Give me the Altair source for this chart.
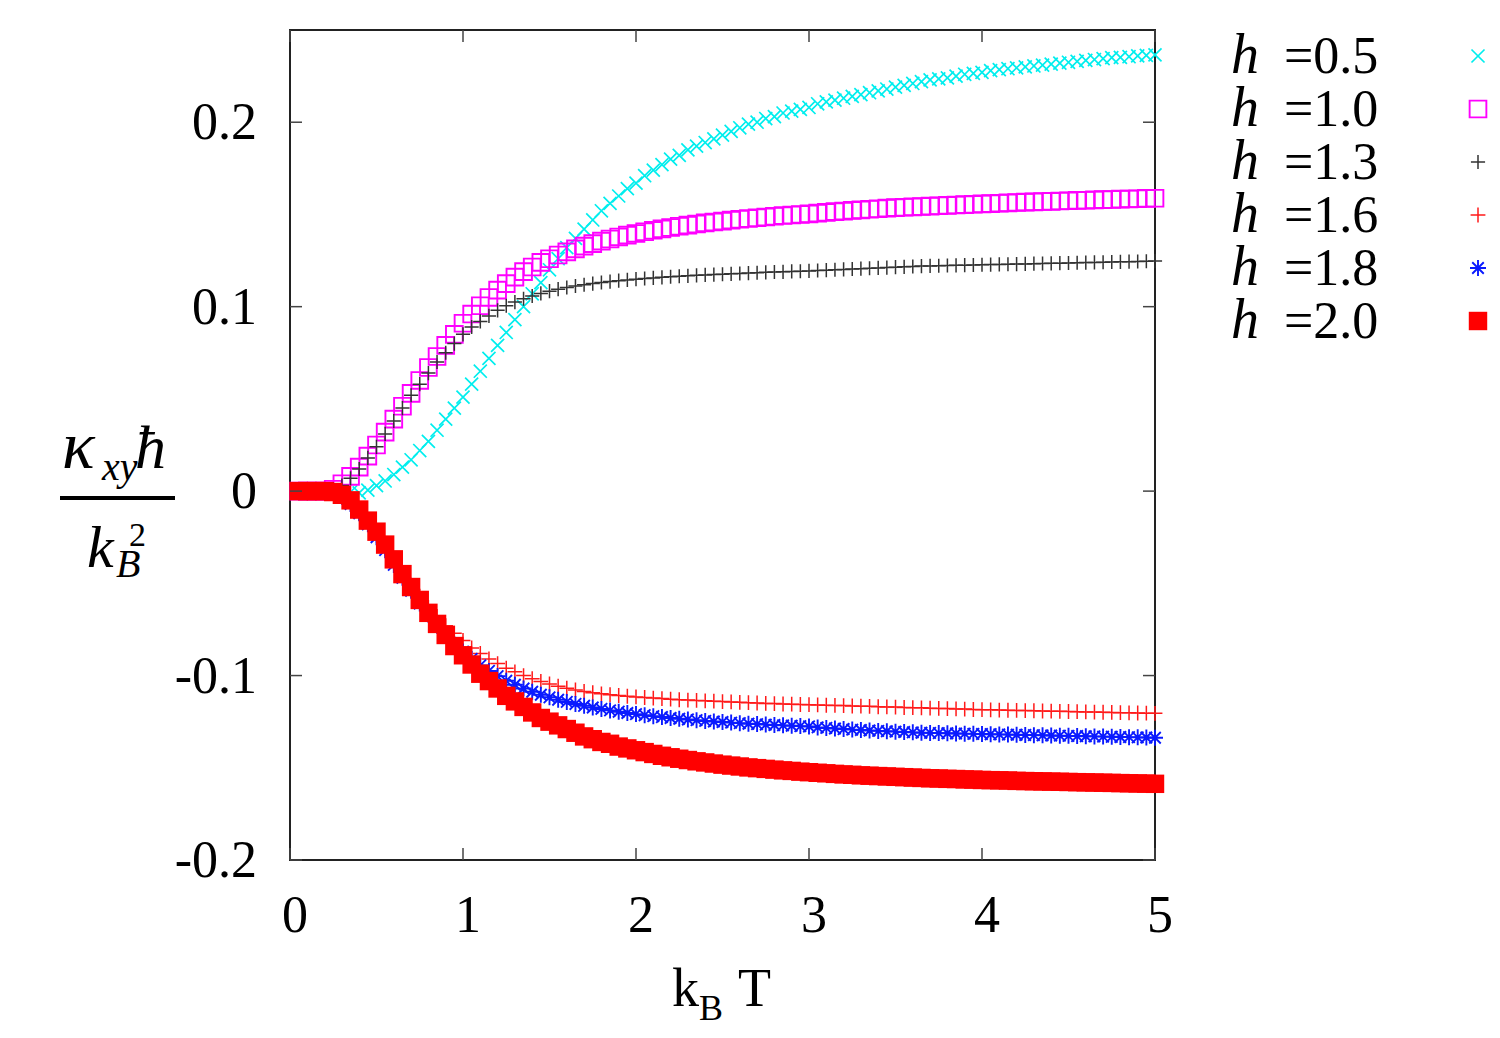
import altair as alt
import pandas as pd

# ---------------- data ----------------
T = [round(0.05 * i, 2) for i in range(1, 101)]

h05 = [0, 0, 0, 0, 0, 0, -0.0005, -0.001, 0.0005, 0.003, 0.0055, 0.009, 0.013, 0.017, 0.022, 0.027, 0.033, 0.039, 0.045, 0.051,
       0.058, 0.065, 0.072, 0.079, 0.086, 0.093, 0.100, 0.107, 0.113, 0.120, 0.126, 0.132, 0.137, 0.142, 0.147, 0.152, 0.156, 0.160, 0.164, 0.167,
       0.171, 0.174, 0.177, 0.180, 0.182, 0.185, 0.187, 0.189, 0.191, 0.193, 0.195, 0.197, 0.199, 0.200, 0.202, 0.203, 0.205, 0.206, 0.207, 0.208,
       0.210, 0.211, 0.212, 0.213, 0.214, 0.215, 0.216, 0.217, 0.218, 0.219, 0.220, 0.221, 0.222, 0.223, 0.2235, 0.224, 0.225, 0.226, 0.2265, 0.227,
       0.228, 0.2285, 0.229, 0.2295, 0.230, 0.2305, 0.231, 0.2315, 0.232, 0.2325, 0.233, 0.2335, 0.234, 0.2345, 0.235, 0.2352, 0.2355, 0.236, 0.2362, 0.2365]

h10 = [0, 0, 0, 0, 0.001, 0.004, 0.008, 0.013, 0.019, 0.025, 0.032, 0.039, 0.046, 0.053, 0.060, 0.067, 0.073, 0.079, 0.085, 0.091,
       0.096, 0.1005, 0.105, 0.109, 0.1125, 0.116, 0.119, 0.1215, 0.124, 0.126, 0.128, 0.1297, 0.1313, 0.1328, 0.1342, 0.1355, 0.1367, 0.1378, 0.1388, 0.1397,
       0.1406, 0.1414, 0.1422, 0.1429, 0.1436, 0.1442, 0.1448, 0.1454, 0.1459, 0.1464, 0.1469, 0.1474, 0.1478, 0.1482, 0.1486, 0.149, 0.1494, 0.1497, 0.15, 0.1503,
       0.1507, 0.1511, 0.1515, 0.1518, 0.1522, 0.1525, 0.1528, 0.1531, 0.1534, 0.1537, 0.1539, 0.1541, 0.1543, 0.1545, 0.1547, 0.1549, 0.1551, 0.1553, 0.1555, 0.1557,
       0.1559, 0.1561, 0.1563, 0.1565, 0.1567, 0.1568, 0.157, 0.1571, 0.1573, 0.1574, 0.1576, 0.1577, 0.1579, 0.158, 0.1581, 0.1583, 0.1584, 0.1585, 0.1587, 0.1588]

h13 = [0, 0, 0, 0, 0.001, 0.003, 0.007, 0.012, 0.018, 0.024, 0.031, 0.038, 0.045, 0.052, 0.058, 0.064, 0.070, 0.075, 0.080, 0.085,
       0.089, 0.092, 0.095, 0.098, 0.1005, 0.1025, 0.1043, 0.1058, 0.1072, 0.1084, 0.1095, 0.1104, 0.1112, 0.1119, 0.1125, 0.1131, 0.1136, 0.1141, 0.1145, 0.1149,
       0.1153, 0.1156, 0.1159, 0.1162, 0.1165, 0.1167, 0.117, 0.1172, 0.1174, 0.1176, 0.1178, 0.118, 0.1182, 0.1184, 0.1186, 0.1188, 0.1189, 0.1191, 0.1192, 0.1194,
       0.1196, 0.1198, 0.12, 0.1202, 0.1204, 0.1206, 0.1208, 0.121, 0.1212, 0.1214, 0.1216, 0.1218, 0.122, 0.1221, 0.1222, 0.1223, 0.1224, 0.1225, 0.1226, 0.1227,
       0.1228, 0.1229, 0.123, 0.1231, 0.1232, 0.1233, 0.1234, 0.1235, 0.1236, 0.1237, 0.1238, 0.1239, 0.124, 0.1241, 0.1242, 0.1243, 0.1244, 0.1245, 0.1246, 0.1247]

h16 = [0, 0, 0, 0, -0.001, -0.003, -0.007, -0.012, -0.018, -0.024, -0.031, -0.038, -0.045, -0.051, -0.057, -0.063, -0.068, -0.073, -0.077, -0.081,
       -0.085, -0.088, -0.091, -0.0935, -0.096, -0.098, -0.100, -0.1017, -0.1032, -0.1046, -0.1058, -0.1069, -0.1078, -0.1086, -0.1093, -0.1099, -0.1104, -0.1108, -0.1112, -0.1116,
       -0.1119, -0.1122, -0.1125, -0.1128, -0.1131, -0.1133, -0.1135, -0.1137, -0.1139, -0.1141, -0.1143, -0.1145, -0.1147, -0.1149, -0.1151, -0.1152, -0.1154, -0.1155, -0.1157, -0.1158,
       -0.1159, -0.1161, -0.1162, -0.1163, -0.1165, -0.1166, -0.1167, -0.1169, -0.117, -0.1171, -0.1173, -0.1174, -0.1175, -0.1177, -0.1178, -0.1179, -0.1181, -0.1182, -0.1184, -0.1185,
       -0.1186, -0.1187, -0.1188, -0.1189, -0.119, -0.1191, -0.1192, -0.1193, -0.1194, -0.1195, -0.1196, -0.1197, -0.1198, -0.1199, -0.12, -0.1201, -0.1202, -0.1203, -0.1204, -0.1205]

h18 = [0, 0, 0, 0, -0.001, -0.003, -0.007, -0.012, -0.018, -0.025, -0.032, -0.040, -0.047, -0.054, -0.061, -0.067, -0.073, -0.078, -0.083, -0.087,
       -0.091, -0.0945, -0.0975, -0.1003, -0.1028, -0.105, -0.107, -0.1088, -0.1104, -0.1118, -0.1131, -0.1143, -0.1154, -0.1164, -0.1173, -0.1181, -0.1189, -0.1196, -0.1203, -0.1209,
       -0.1215, -0.122, -0.1225, -0.123, -0.1234, -0.1238, -0.1242, -0.1246, -0.1249, -0.1252, -0.1255, -0.1258, -0.1261, -0.1263, -0.1266, -0.1268, -0.127, -0.1272, -0.1274, -0.1276,
       -0.1281, -0.1284, -0.1287, -0.129, -0.1293, -0.1295, -0.1298, -0.13, -0.1302, -0.1304, -0.1306, -0.1308, -0.131, -0.1311, -0.1312, -0.1313, -0.1314, -0.1315, -0.1316, -0.1317,
       -0.1318, -0.1319, -0.132, -0.1321, -0.1322, -0.1323, -0.1324, -0.1325, -0.1326, -0.1327, -0.1328, -0.1329, -0.133, -0.1331, -0.1332, -0.1333, -0.1334, -0.1335, -0.1336, -0.1337]

h20 = [0, 0, 0, 0, -0.0005, -0.002, -0.005, -0.010, -0.016, -0.022, -0.029, -0.037, -0.045, -0.052, -0.059, -0.066, -0.072, -0.078, -0.084, -0.089,
       -0.094, -0.099, -0.103, -0.107, -0.111, -0.114, -0.117, -0.120, -0.123, -0.125, -0.127, -0.129, -0.131, -0.133, -0.1345, -0.136, -0.137, -0.1385, -0.1395, -0.1405,
       -0.1415, -0.1425, -0.1435, -0.1443, -0.1451, -0.1458, -0.1465, -0.1471, -0.1477, -0.1483, -0.1488, -0.1493, -0.1498, -0.1502, -0.1506, -0.151, -0.1514, -0.1517, -0.1521, -0.1524,
       -0.1527, -0.153, -0.1533, -0.1536, -0.1538, -0.1541, -0.1543, -0.1545, -0.1547, -0.1549, -0.1551, -0.1553, -0.1555, -0.1557, -0.1558, -0.156, -0.1561, -0.1563, -0.1564, -0.1566,
       -0.1567, -0.1568, -0.1569, -0.1571, -0.1572, -0.1573, -0.1574, -0.1575, -0.1576, -0.1577, -0.1578, -0.1579, -0.158, -0.1581, -0.1582, -0.1583, -0.1584, -0.1585, -0.1586, -0.1587]

labels = ["0.5", "1.0", "1.3", "1.6", "1.8", "2.0"]
series = [h05, h10, h13, h16, h18, h20]
x_ticks = [0, 1, 2, 3, 4, 5]
x_tick_labels = ["0", "1", "2", "3", "4", "5"]
y_ticks = [-0.2, -0.1, 0, 0.1, 0.2]
y_tick_labels = ["-0.2", "-0.1", "0", "0.1", "0.2"]

# ---------------- styles ----------------
W, H = 865, 830
SERIF = "Liberation Serif"
X_PATH = "M-1,-1L1,1M-1,1L1,-1"
PLUS_PATH = "M-1,0L1,0M0,-1L0,1"
STAR_PATH = "M-1,0L1,0M0,-1L0,1M-0.72,-0.72L0.72,0.72M-0.72,0.72L0.72,-0.72"
styles = {
    "0.5": dict(shape=X_PATH, color="#00eeee", filled=False, size=170, sw=1.7),
    "1.0": dict(shape="square", color="#ff00ff", filled=False, size=280, sw=1.9),
    "1.3": dict(shape=PLUS_PATH, color="#333333", filled=False, size=200, sw=1.5),
    "1.6": dict(shape=PLUS_PATH, color="#ff1a1a", filled=False, size=220, sw=1.5),
    "1.8": dict(shape=STAR_PATH, color="#0a1aff", filled=False, size=256, sw=1.9),
    "2.0": dict(shape="square", color="#ff0000", filled=True, size=340, sw=0),
}

xscale = alt.Scale(domain=[0, 5], nice=False, zero=False)
yscale = alt.Scale(domain=[-0.2, 0.25], nice=False, zero=False)


def mark_for(st, **extra):
    if st["filled"]:
        return dict(shape=st["shape"], filled=True, color=st["color"], size=st["size"],
                    opacity=1, strokeWidth=0, **extra)
    return dict(shape=st["shape"], filled=False, color=st["color"], size=st["size"],
                opacity=1, strokeWidth=st["sw"], **extra)


layers = []
for lab, vals in zip(labels, series):
    d = pd.DataFrame({"T": T, "kxy": vals})
    st = styles[lab]
    layers.append(
        alt.Chart(d).mark_point(**mark_for(st)).encode(
            x=alt.X("T:Q", scale=xscale, axis=None),
            y=alt.Y("kxy:Q", scale=yscale, axis=None),
        )
    )

# inner ticks on all four sides (gnuplot style)
xt = pd.DataFrame({"v": x_ticks, "lab": x_tick_labels})
yt = pd.DataFrame({"v": y_ticks, "lab": y_tick_labels})
TICK = dict(color="#444444", strokeWidth=1.5)
TL = 12
layers += [
    alt.Chart(xt).mark_rule(**TICK).encode(x=alt.X("v:Q", scale=xscale, axis=None), y=alt.value(H), y2=alt.value(H - TL)),
    alt.Chart(xt).mark_rule(**TICK).encode(x=alt.X("v:Q", scale=xscale, axis=None), y=alt.value(0), y2=alt.value(TL)),
    alt.Chart(yt).mark_rule(**TICK).encode(y=alt.Y("v:Q", scale=yscale, axis=None), x=alt.value(0), x2=alt.value(TL)),
    alt.Chart(yt).mark_rule(**TICK).encode(y=alt.Y("v:Q", scale=yscale, axis=None), x=alt.value(W - TL), x2=alt.value(W)),
    # tick labels
    alt.Chart(xt).mark_text(font=SERIF, fontSize=52, align="center", baseline="alphabetic", dx=5, color="black").encode(
        x=alt.X("v:Q", scale=xscale, axis=None), y=alt.value(H + 72), text="lab:N"),
    alt.Chart(yt).mark_text(font=SERIF, fontSize=52, align="right", baseline="alphabetic", dy=17, color="black").encode(
        y=alt.Y("v:Q", scale=yscale, axis=None), x=alt.value(-33), text="lab:N"),
]


def txt(s, x, y, size, italic=False, align="left"):
    return alt.Chart(pd.DataFrame({"t": [s]})).mark_text(
        font=SERIF, fontSize=size, fontStyle="italic" if italic else "normal",
        align=align, baseline="alphabetic", color="black",
    ).encode(text="t:N", x=alt.value(x), y=alt.value(y))


# x-axis title: k_B T
layers += [
    txt("k", 382, 976, 54),
    txt("B", 409, 990, 36),
    txt("T", 448, 976, 54),
]
# y-axis title: kappa_xy hbar / k_B^2
layers += [
    txt("κ", -228, 438, 68, italic=True),
    txt("xy", -188, 450, 40, italic=True),
    txt("ħ", -155, 438, 62, italic=True),
    alt.Chart(pd.DataFrame({"t": [0]})).mark_rule(color="black", strokeWidth=4).encode(
        x=alt.value(-230), x2=alt.value(-115), y=alt.value(468)),
    txt("k", -203, 537, 60, italic=True),
    txt("2", -161, 516, 34),
    txt("B", -174, 547, 40, italic=True),
]

main = alt.layer(*layers)

# ---------------- legend ----------------
leg = pd.DataFrame({"h": labels, "eq": ["=" + l for l in labels]})
ly = alt.Y("h:O", scale=alt.Scale(domain=labels, range=[43, 308], padding=0), axis=None)
leg_layers = [
    alt.Chart(leg).mark_text(font=SERIF, fontSize=56, fontStyle="italic", align="left",
                             baseline="alphabetic", color="black", text="h").encode(x=alt.value(941), y=ly),
    alt.Chart(leg).mark_text(font=SERIF, fontSize=52, align="left", baseline="alphabetic",
                             color="black").encode(text="eq:N", x=alt.value(994), y=ly),
]
for lab in labels:
    st = styles[lab]
    leg_layers.append(
        alt.Chart(leg).transform_filter(alt.datum.h == lab).mark_point(**mark_for(st, yOffset=-17)).encode(
            x=alt.value(1188), y=ly)
    )
legend = alt.layer(*leg_layers)

chart = alt.layer(main, legend).resolve_scale(y="independent").properties(
    width=W, height=H,
    autosize=alt.AutoSizeParams(type="none"),
    padding={"left": 282, "top": 22, "right": 337, "bottom": 170},
    background="white",
).configure_view(stroke="#222222", strokeWidth=2)

chart.save("out.html", embed_options={"renderer": "svg", "actions": False})
